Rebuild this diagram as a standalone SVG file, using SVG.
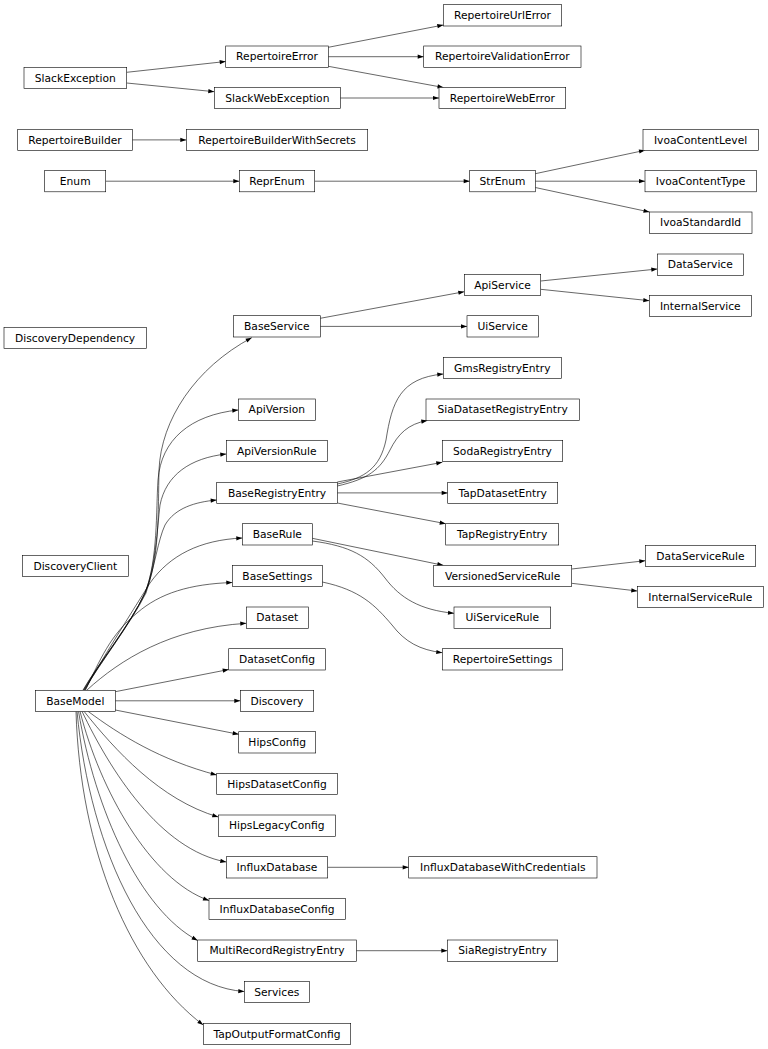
<svg xmlns="http://www.w3.org/2000/svg" width="768" height="1049" viewBox="0 0 768 1049">
<style>
.n rect{fill:#fff;stroke:#000;stroke-width:0.6}
.n text{font-family:"DejaVu Sans","Liberation Sans",sans-serif;font-size:10.7px;text-anchor:middle;fill:#000}
#edges path{fill:none;stroke:#000;stroke-width:0.6;marker-end:url(#arr)}
</style>
<defs>
<marker id="arr" markerUnits="userSpaceOnUse" markerWidth="6" markerHeight="4.2" refX="6" refY="2.1" orient="auto" overflow="visible">
<path d="M0,0 L6,2.1 L0,4.2 z" fill="#000"/>
</marker>
</defs>
<rect width="768" height="1049" fill="#fff"/>
<g id="edges">
<path d="M126.7,72.3 L225.7,61.5"/>
<path d="M126.7,83 L214.3,91.7"/>
<path d="M328.3,47.3 L443.3,25"/>
<path d="M328.3,56.7 L423.7,56.7"/>
<path d="M328.3,66.3 L443.5,87.5"/>
<path d="M340.3,98 L439,98"/>
<path d="M132.3,139.9 L186.3,139.9"/>
<path d="M105.7,181.2 L239.3,181.2"/>
<path d="M314.7,181.2 L469.7,181.2"/>
<path d="M535.3,173.7 L645,150.3"/>
<path d="M535.3,181.2 L645,181.2"/>
<path d="M535.3,187.5 L649.5,212"/>
<path d="M320.3,318.3 L464.3,291.7"/>
<path d="M320.3,326.4 L467,326.4"/>
<path d="M540.7,281 L657.3,269"/>
<path d="M540.7,289.3 L649.3,300.7"/>
<path d="M337.3,484 C365,478 380,468 386,440 C392,402 400,378 443.3,374"/>
<path d="M337.3,486 C368,479 380,470 390,450 C398,434 408,424 427.3,420.5"/>
<path d="M337.3,482 L442.3,462.3"/>
<path d="M337.3,492.9 L447.7,492.9"/>
<path d="M337.3,503 L445.7,523.7"/>
<path d="M312.3,538.3 L443.3,565.3"/>
<path d="M312.3,541 C350,546 368,556 385,578 C400,598 420,610 454,613.3"/>
<path d="M322.3,582 C360,590 375,605 392,625 C405,642 420,650 442.3,652.7"/>
<path d="M571.7,569 L645.3,560.7"/>
<path d="M571.7,583.3 L637.3,591"/>
<path d="M327.7,867.3 L408.7,867.3"/>
<path d="M356.3,950.7 L447.3,950.7"/>
<path d="M83,690 C98,664 130,625 145,593 C160,560 158,510 159,470 C161,420 195,368 251.7,337.7"/>
<path d="M83.5,690 C98,664 130,625 145,593 C158,560 156,510 158,480 C161,440 190,415 238.3,410"/>
<path d="M84,690 C99,664 130,625 145,593 C156,565 157,530 160,505 C166,475 190,458 226.3,454"/>
<path d="M84.5,690 C99,664 130,625 146,593 C155,565 158,540 165,525 C175,508 195,502 216.7,500"/>
<path d="M85,690 C100,662 130,615 150,583 C170,555 200,540 242.3,538"/>
<path d="M85.5,690 C100,660 110,635 137,613 C160,593 190,584 232.3,582.5"/>
<path d="M87,690 C120,660 170,628 246.3,623.3"/>
<path d="M115.3,691.7 L228.7,669.5"/>
<path d="M115.3,700.8 L240.3,700.8"/>
<path d="M115.3,710 L238.7,734.3"/>
<path d="M88,711.3 C120,735 160,760 216.7,775"/>
<path d="M84,711.3 C115,750 160,800 218.3,817"/>
<path d="M82,711.3 C110,770 160,850 226.3,862"/>
<path d="M80,711.3 C100,790 150,880 209,900.5"/>
<path d="M78.5,711.3 C95,810 140,910 197.7,940.5"/>
<path d="M77,711.3 C90,850 150,985 244.3,991.5"/>
<path d="M76,711.3 C80,850 130,970 203.3,1025"/>
</g>
<g id="RepertoireUrlError" class="n"><rect x="443.3" y="4.7" width="118.4" height="21.3"/><text x="502.5" y="18.9">RepertoireUrlError</text></g>
<g id="RepertoireError" class="n"><rect x="225.7" y="46" width="102.6" height="21.3"/><text x="277" y="60.2">RepertoireError</text></g>
<g id="RepertoireValidationError" class="n"><rect x="423.7" y="46" width="157.3" height="21.3"/><text x="502.3" y="60.2">RepertoireValidationError</text></g>
<g id="SlackException" class="n"><rect x="24" y="67.3" width="102.7" height="21.3"/><text x="75.3" y="81.5">SlackException</text></g>
<g id="SlackWebException" class="n"><rect x="214.3" y="87.3" width="126" height="21.3"/><text x="277.3" y="101.5">SlackWebException</text></g>
<g id="RepertoireWebError" class="n"><rect x="439" y="87.3" width="126.7" height="21.3"/><text x="502.3" y="101.5">RepertoireWebError</text></g>
<g id="RepertoireBuilder" class="n"><rect x="17.7" y="129.3" width="114.6" height="21.3"/><text x="75" y="143.5">RepertoireBuilder</text></g>
<g id="RepertoireBuilderWithSecrets" class="n"><rect x="186.3" y="129.3" width="181.4" height="21.3"/><text x="277" y="143.5">RepertoireBuilderWithSecrets</text></g>
<g id="IvoaContentLevel" class="n"><rect x="643" y="129.3" width="115.3" height="21.3"/><text x="700.6" y="143.5">IvoaContentLevel</text></g>
<g id="Enum" class="n"><rect x="44.7" y="170.5" width="61" height="21.3"/><text x="75.2" y="184.7">Enum</text></g>
<g id="ReprEnum" class="n"><rect x="239.3" y="170.5" width="75.4" height="21.3"/><text x="277" y="184.7">ReprEnum</text></g>
<g id="StrEnum" class="n"><rect x="469.7" y="170.5" width="65.6" height="21.3"/><text x="502.5" y="184.7">StrEnum</text></g>
<g id="IvoaContentType" class="n"><rect x="645" y="170.5" width="111.3" height="21.3"/><text x="700.6" y="184.7">IvoaContentType</text></g>
<g id="IvoaStandardId" class="n"><rect x="649.3" y="212" width="102.7" height="21.3"/><text x="700.6" y="226.2">IvoaStandardId</text></g>
<g id="DataService" class="n"><rect x="657.3" y="254" width="86" height="21.3"/><text x="700.3" y="268.2">DataService</text></g>
<g id="ApiService" class="n"><rect x="464.3" y="274.3" width="76.4" height="21.3"/><text x="502.5" y="288.5">ApiService</text></g>
<g id="InternalService" class="n"><rect x="649.3" y="295.3" width="102" height="21.3"/><text x="700.3" y="309.5">InternalService</text></g>
<g id="BaseService" class="n"><rect x="233.3" y="315.7" width="87" height="21.3"/><text x="276.8" y="329.9">BaseService</text></g>
<g id="UiService" class="n"><rect x="467" y="315.7" width="71.3" height="21.3"/><text x="502.6" y="329.9">UiService</text></g>
<g id="DiscoveryDependency" class="n"><rect x="4" y="327.3" width="142.3" height="21.3"/><text x="75.1" y="341.5">DiscoveryDependency</text></g>
<g id="GmsRegistryEntry" class="n"><rect x="443.3" y="357.3" width="118" height="21.3"/><text x="502.3" y="371.5">GmsRegistryEntry</text></g>
<g id="ApiVersion" class="n"><rect x="238.3" y="399" width="77" height="21.3"/><text x="276.8" y="413.2">ApiVersion</text></g>
<g id="SiaDatasetRegistryEntry" class="n"><rect x="426" y="399" width="153.3" height="21.3"/><text x="502.6" y="413.2">SiaDatasetRegistryEntry</text></g>
<g id="ApiVersionRule" class="n"><rect x="226.3" y="440.3" width="101" height="21.3"/><text x="276.8" y="454.5">ApiVersionRule</text></g>
<g id="SodaRegistryEntry" class="n"><rect x="442.3" y="440.3" width="120.4" height="21.3"/><text x="502.5" y="454.5">SodaRegistryEntry</text></g>
<g id="BaseRegistryEntry" class="n"><rect x="216.7" y="482.3" width="120.6" height="21.3"/><text x="277" y="496.5">BaseRegistryEntry</text></g>
<g id="TapDatasetEntry" class="n"><rect x="447.7" y="482.3" width="110" height="21.3"/><text x="502.7" y="496.5">TapDatasetEntry</text></g>
<g id="BaseRule" class="n"><rect x="242.3" y="523.7" width="70" height="21.3"/><text x="277.3" y="537.9">BaseRule</text></g>
<g id="TapRegistryEntry" class="n"><rect x="445.7" y="523.7" width="113" height="21.3"/><text x="502.2" y="537.9">TapRegistryEntry</text></g>
<g id="DataServiceRule" class="n"><rect x="645.3" y="545.3" width="110.4" height="21.3"/><text x="700.5" y="559.5">DataServiceRule</text></g>
<g id="DiscoveryClient" class="n"><rect x="22.3" y="555.3" width="106" height="21.3"/><text x="75.3" y="569.5">DiscoveryClient</text></g>
<g id="BaseSettings" class="n"><rect x="232.3" y="565.3" width="90" height="21.3"/><text x="277.3" y="579.5">BaseSettings</text></g>
<g id="VersionedServiceRule" class="n"><rect x="433.7" y="565.3" width="138" height="21.3"/><text x="502.7" y="579.5">VersionedServiceRule</text></g>
<g id="InternalServiceRule" class="n"><rect x="637.3" y="586.3" width="126" height="21.3"/><text x="700.3" y="600.5">InternalServiceRule</text></g>
<g id="Dataset" class="n"><rect x="246.3" y="607" width="62" height="21.3"/><text x="277.3" y="621.2">Dataset</text></g>
<g id="UiServiceRule" class="n"><rect x="454" y="607" width="96.7" height="21.3"/><text x="502.3" y="621.2">UiServiceRule</text></g>
<g id="DatasetConfig" class="n"><rect x="228.7" y="648.7" width="96.6" height="21.3"/><text x="277" y="662.9">DatasetConfig</text></g>
<g id="RepertoireSettings" class="n"><rect x="442.3" y="648.7" width="120.4" height="21.3"/><text x="502.5" y="662.9">RepertoireSettings</text></g>
<g id="BaseModel" class="n"><rect x="35.3" y="690.3" width="80" height="21.3"/><text x="75.3" y="704.5">BaseModel</text></g>
<g id="Discovery" class="n"><rect x="240.3" y="690.3" width="73.4" height="21.3"/><text x="277" y="704.5">Discovery</text></g>
<g id="HipsConfig" class="n"><rect x="238.7" y="731.7" width="77" height="21.3"/><text x="277.2" y="745.9">HipsConfig</text></g>
<g id="HipsDatasetConfig" class="n"><rect x="216.7" y="773.3" width="120.6" height="21.3"/><text x="277" y="787.5">HipsDatasetConfig</text></g>
<g id="HipsLegacyConfig" class="n"><rect x="218.3" y="815" width="117" height="21.3"/><text x="276.8" y="829.2">HipsLegacyConfig</text></g>
<g id="InfluxDatabase" class="n"><rect x="226.3" y="856.7" width="101.4" height="21.3"/><text x="277" y="870.9">InfluxDatabase</text></g>
<g id="InfluxDatabaseWithCredentials" class="n"><rect x="408.7" y="856.7" width="188.3" height="21.3"/><text x="502.8" y="870.9">InfluxDatabaseWithCredentials</text></g>
<g id="InfluxDatabaseConfig" class="n"><rect x="209" y="898.3" width="136.3" height="21.3"/><text x="277.1" y="912.5">InfluxDatabaseConfig</text></g>
<g id="MultiRecordRegistryEntry" class="n"><rect x="197.7" y="940" width="158.6" height="21.3"/><text x="277" y="954.2">MultiRecordRegistryEntry</text></g>
<g id="SiaRegistryEntry" class="n"><rect x="447.3" y="940" width="110.4" height="21.3"/><text x="502.5" y="954.2">SiaRegistryEntry</text></g>
<g id="Services" class="n"><rect x="244.3" y="981.3" width="65" height="21.3"/><text x="276.8" y="995.5">Services</text></g>
<g id="TapOutputFormatConfig" class="n"><rect x="203.3" y="1023.3" width="147.4" height="21.3"/><text x="277" y="1037.5">TapOutputFormatConfig</text></g>
</svg>
